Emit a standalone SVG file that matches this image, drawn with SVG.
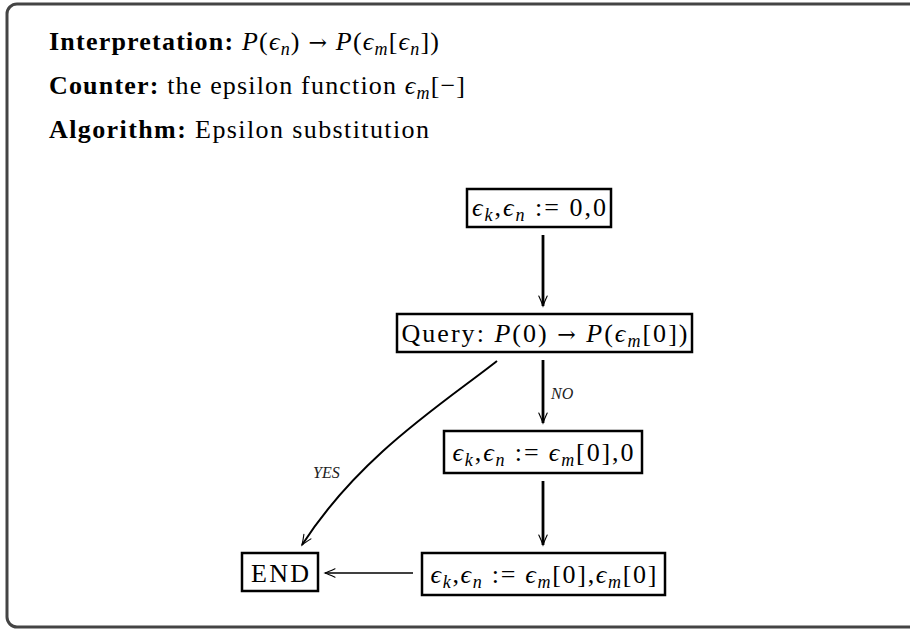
<svg xmlns="http://www.w3.org/2000/svg" width="910" height="629" viewBox="0 0 910 629">
<style>
  .t { font-family: "Liberation Serif", "DejaVu Serif", serif; fill: #000; }
  .hd { font-size: 26px; }
  .bx { font-size: 26px; }
  .b { font-weight: bold; }
  .i { font-style: italic; }
  .s { font-style: italic; font-size: 18px; }
  .ar { font-family: "DejaVu Serif", serif; font-size: 22px; }
  .lbl { font-family: "Liberation Serif", "DejaVu Serif", serif; font-style: italic; font-size: 16px; fill: #222; }
  .node rect { fill: #fff; stroke: #000; stroke-width: 2.5; }
  .c { fill: none; stroke: #000; }
</style>
<defs>
  <marker id="arr" markerUnits="userSpaceOnUse" markerWidth="14" markerHeight="14" refX="0" refY="0" viewBox="-12 -7 14 14" orient="auto" overflow="visible">
    <path d="M-10,-4.2 Q-3.5,-1.2 0,0 Q-3.5,1.2 -10,4.2" fill="none" stroke="#000" stroke-width="1.1" stroke-linecap="round"/>
  </marker>
</defs>
<rect x="7" y="4" width="930" height="623" rx="10" fill="#fff" stroke="#444" stroke-width="3"/>

<g id="header">
  <text class="t hd" x="49" y="50" textLength="390"><tspan class="b">Interpretation:</tspan> <tspan class="i">P</tspan>(<tspan class="i">ϵ</tspan><tspan class="s" dy="5">n</tspan><tspan dy="-5">) </tspan><tspan class="ar">→</tspan> <tspan class="i">P</tspan>(<tspan class="i">ϵ</tspan><tspan class="s" dy="5">m</tspan><tspan dy="-5">[</tspan><tspan class="i">ϵ</tspan><tspan class="s" dy="5">n</tspan><tspan dy="-5">])</tspan></text>
  <text class="t hd" x="49" y="94" textLength="416"><tspan class="b">Counter:</tspan> the epsilon function <tspan class="i">ϵ</tspan><tspan class="s" dy="5">m</tspan><tspan dy="-5">[−]</tspan></text>
  <text class="t hd" x="49" y="138" textLength="380"><tspan class="b">Algorithm:</tspan> Epsilon substitution</text>
</g>

<g id="n1" class="node">
  <rect x="467" y="189" width="144" height="38"/>
  <text class="t bx" x="539" y="216" text-anchor="middle" textLength="134"><tspan class="i">ϵ</tspan><tspan class="s" dy="5">k</tspan><tspan dy="-5">,</tspan><tspan class="i">ϵ</tspan><tspan class="s" dy="5">n</tspan><tspan dy="-5"> := 0,0</tspan></text>
</g>

<g id="n2" class="node">
  <rect x="397" y="314" width="295" height="38"/>
  <text class="t bx" x="544.5" y="341.5" text-anchor="middle" textLength="286">Query: <tspan class="i">P</tspan>(0) <tspan class="ar">→</tspan> <tspan class="i">P</tspan>(<tspan class="i">ϵ</tspan><tspan class="s" dy="5">m</tspan><tspan dy="-5">[0])</tspan></text>
</g>

<g id="n3" class="node">
  <rect x="444" y="431" width="198" height="42"/>
  <text class="t bx" x="543" y="460.5" text-anchor="middle" textLength="181"><tspan class="i">ϵ</tspan><tspan class="s" dy="5">k</tspan><tspan dy="-5">,</tspan><tspan class="i">ϵ</tspan><tspan class="s" dy="5">n</tspan><tspan dy="-5"> := </tspan><tspan class="i">ϵ</tspan><tspan class="s" dy="5">m</tspan><tspan dy="-5">[0],0</tspan></text>
</g>

<g id="n4" class="node">
  <rect x="422" y="553" width="243" height="42"/>
  <text class="t bx" x="543.5" y="582.5" text-anchor="middle" textLength="226"><tspan class="i">ϵ</tspan><tspan class="s" dy="5">k</tspan><tspan dy="-5">,</tspan><tspan class="i">ϵ</tspan><tspan class="s" dy="5">n</tspan><tspan dy="-5"> := </tspan><tspan class="i">ϵ</tspan><tspan class="s" dy="5">m</tspan><tspan dy="-5">[0],</tspan><tspan class="i">ϵ</tspan><tspan class="s" dy="5">m</tspan><tspan dy="-5">[0]</tspan></text>
</g>

<g id="end" class="node">
  <rect x="242" y="553" width="76" height="38"/>
  <text class="t bx" x="280" y="581.5" text-anchor="middle" textLength="58">END</text>
</g>

<g id="connectors">
  <path class="c" d="M543,235 L543,306" stroke-width="2.8" marker-end="url(#arr)"/>
  <path class="c" d="M543,360 L543,423" stroke-width="2.8" marker-end="url(#arr)"/>
  <path class="c" d="M543,481 L543,545" stroke-width="2.8" marker-end="url(#arr)"/>
  <path class="c" d="M413,573 L325,573" stroke-width="1.6" marker-end="url(#arr)"/>
  <path class="c" d="M497,361 C445,402 360,455 302,545" stroke-width="2" marker-end="url(#arr)"/>
  <text class="lbl" x="551" y="399">NO</text>
  <text class="lbl" x="313" y="478">YES</text>
</g>
</svg>
